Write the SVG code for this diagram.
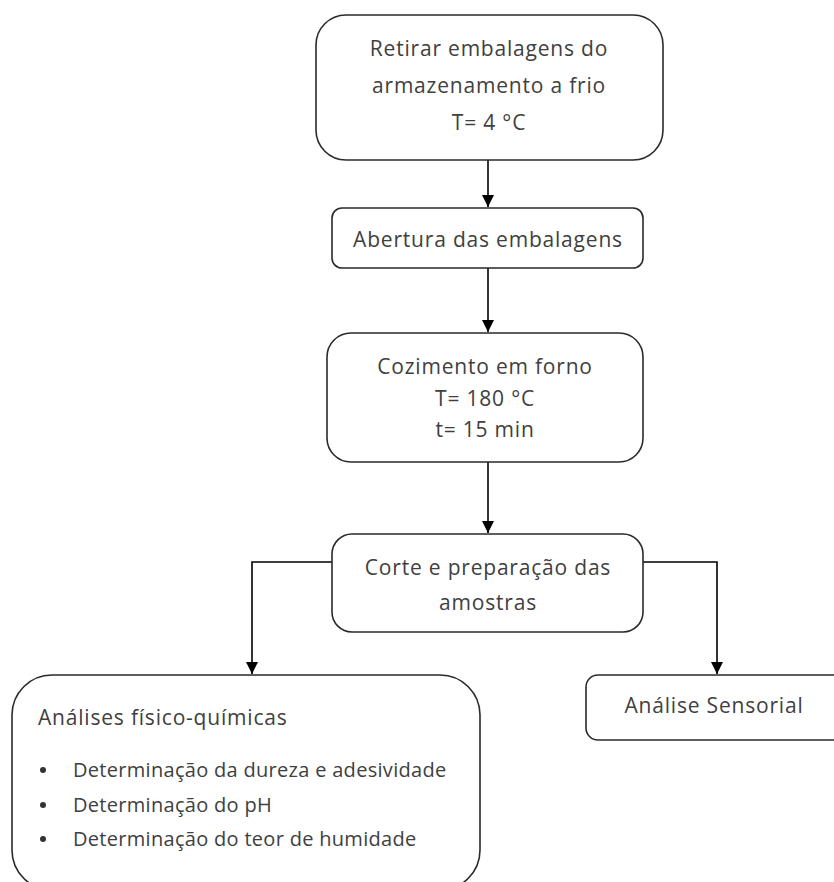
<svg xmlns="http://www.w3.org/2000/svg" width="834" height="882" viewBox="0 0 834 882">
<style>
.box{fill:#fff;stroke:#2a2a2a;stroke-width:1.6}
.t{font-family:"Open Sans","Liberation Sans",sans-serif;font-size:21px;letter-spacing:0.8px;fill:#404040}
.tc{text-anchor:middle}
.b{font-size:20px;letter-spacing:0.3px}
.c{fill:none;stroke:#000;stroke-width:1.6}
.dot{fill:#333}
</style>
<defs>
<marker id="ah" markerWidth="12" markerHeight="12" refX="10" refY="5" orient="auto" markerUnits="userSpaceOnUse" viewBox="0 0 10 10">
<path d="M0,0 L10,5 L0,10 z" fill="#000"/>
</marker>
</defs>
<rect width="834" height="882" fill="#fff"/>
<g id="connectors">
<line class="c" x1="488" y1="160" x2="488" y2="207" marker-end="url(#ah)"/>
<line class="c" x1="488" y1="268" x2="488" y2="332" marker-end="url(#ah)"/>
<line class="c" x1="488" y1="462" x2="488" y2="533" marker-end="url(#ah)"/>
<polyline class="c" points="332,562 252,562 252,674" marker-end="url(#ah)"/>
<polyline class="c" points="643,562 717,562 717,674" marker-end="url(#ah)"/>
</g>
<g id="n1">
<rect class="box" x="316" y="15" width="347" height="145" rx="30"/>
<text class="t tc" x="489" y="56">Retirar embalagens do</text>
<text class="t tc" x="489" y="93">armazenamento a frio</text>
<text class="t tc" x="489" y="130">T= 4 °C</text>
</g>
<g id="n2">
<rect class="box" x="332" y="208" width="311" height="60" rx="10"/>
<text class="t tc" x="488" y="247">Abertura das embalagens</text>
</g>
<g id="n3">
<rect class="box" x="327" y="333" width="316" height="129" rx="24"/>
<text class="t tc" x="485" y="374">Cozimento em forno</text>
<text class="t tc" x="485" y="406">T= 180 °C</text>
<text class="t tc" x="485" y="437">t= 15 min</text>
</g>
<g id="n4">
<rect class="box" x="332" y="534" width="311" height="98" rx="20"/>
<text class="t tc" x="488" y="575">Corte e preparação das</text>
<text class="t tc" x="488" y="610">amostras</text>
</g>
<g id="n5">
<rect class="box" x="12" y="675" width="468" height="215" rx="40"/>
<text class="t" x="38" y="725">Análises físico-químicas</text>
<circle class="dot" cx="43" cy="770" r="3"/>
<circle class="dot" cx="43" cy="805" r="3"/>
<circle class="dot" cx="43" cy="839" r="3"/>
<text class="t b" x="73" y="777">Determinação da dureza e adesividade</text>
<text class="t b" x="73" y="812">Determinação do pH</text>
<text class="t b" x="73" y="846">Determinação do teor de humidade</text>
</g>
<g id="n6">
<rect class="box" x="586" y="675" width="262" height="65" rx="12"/>
<text class="t tc" x="714" y="713">Análise Sensorial</text>
</g>
</svg>
